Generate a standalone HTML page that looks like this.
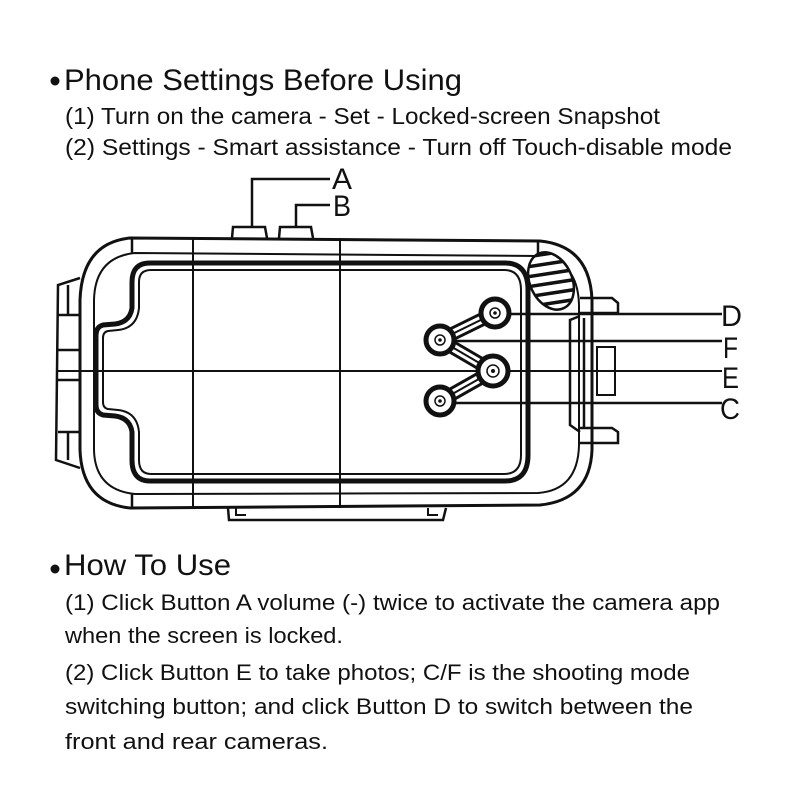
<!DOCTYPE html>
<html><head><meta charset="utf-8"><style>
html,body{margin:0;padding:0;background:#fff;width:800px;height:800px;overflow:hidden}
svg{display:block}
text{font-family:"Liberation Sans",sans-serif;fill:#111}
</style></head><body>
<svg width="800" height="800" viewBox="0 0 800 800" xmlns="http://www.w3.org/2000/svg">
<circle cx="55" cy="81" r="4.5" fill="#111"/>
<text x="64" y="90" font-size="30" textLength="398" lengthAdjust="spacingAndGlyphs">Phone Settings Before Using</text>
<text x="65" y="124" font-size="23" textLength="595" lengthAdjust="spacingAndGlyphs">(1) Turn on the camera - Set - Locked-screen Snapshot</text>
<text x="65" y="155" font-size="23" textLength="667" lengthAdjust="spacingAndGlyphs">(2) Settings - Smart assistance - Turn off Touch-disable mode</text>

<g fill="none" stroke="#111" stroke-width="2.5">
<polyline points="252,226 252,179 330,179"/>
<polyline points="296,226 296,205 330,205"/>
<path d="M232,238 L233,227 L265,227 L267,238"/>
<path d="M279,238 L280,227 L311,227 L313,238"/>
<path d="M80,278 L58,285 L56,460 L80,468"/>
<line x1="68" y1="285" x2="68" y2="315"/><line x1="58" y1="315" x2="80" y2="315"/>
<line x1="58" y1="350" x2="80" y2="350"/><line x1="58" y1="380" x2="80" y2="380"/>
<line x1="58" y1="432" x2="80" y2="432"/><line x1="68" y1="432" x2="68" y2="460"/>
<path d="M130,238 L540,241 Q590,246 592,300 L592,450 Q590,500 540,505 L130,508 Q82,503 80,450 L80,300 Q82,243 130,238 Z" stroke-width="3"/>
<path d="M135,253 L538,256 Q578,260 579,305 L579,445 Q578,490 538,493 L135,494 Q95,490 94,450 L94,300 Q95,257 135,253 Z" stroke-width="2"/>
<line x1="132" y1="238" x2="132" y2="253"/><line x1="132" y1="494" x2="132" y2="508"/>
<line x1="538" y1="241" x2="538" y2="256"/>
<path d="M228,508 L229,520 L443,520 L446,508"/>
<path d="M236,508 L236,515 L246,515" stroke-width="2"/>
<path d="M428,508 L428,515 L438,515" stroke-width="2"/>
<path d="M150,263 L505,263 Q528,263 528,290 L528,455 Q528,481 505,481 L150,481 Q132,481 132,460 L132,432 Q130,418 115,416 L103,415 Q96,413 96,405 L96,335 Q96,327 103,325 L115,324 Q130,322 132,308 L132,282 Q132,263 150,263 Z" stroke-width="5"/>
<path d="M151,270 L504,270 Q521,270 521,290 L521,455 Q521,474 504,474 L151,474 Q139,474 139,460 L139,432 Q137,412 118,410 L108,409 Q103,408 103,402 L103,338 Q103,332 108,331 L118,330 Q137,328 139,308 L139,282 Q139,270 151,270 Z" stroke-width="2"/>
<line x1="193" y1="238" x2="193" y2="508" stroke-width="2"/>
<line x1="340" y1="238" x2="340" y2="508" stroke-width="2"/>
<line x1="56" y1="371" x2="722" y2="371" stroke-width="2"/>
<path d="M580,298 L612,298 L618,303 L618,313 L580,313"/>
<path d="M580,428 L612,428 L618,432 L618,443 L580,443"/>
<path d="M580,316 L570,320 L570,425 L580,432"/>
<line x1="584" y1="318" x2="584" y2="428"/>
<rect x="597" y="347" width="18" height="48" stroke-width="2"/>
<line x1="495" y1="314" x2="722" y2="314"/>
<line x1="440" y1="341" x2="722" y2="341"/>
<line x1="440" y1="403" x2="722" y2="403"/>
</g>
<defs><clipPath id="ov"><ellipse cx="551" cy="281" rx="21" ry="30" transform="rotate(-25 551 281)"/></clipPath></defs>
<ellipse cx="551" cy="281" rx="21" ry="30" transform="rotate(-25 551 281)" fill="#fff" stroke="#111" stroke-width="2.5"/>
<g clip-path="url(#ov)" stroke="#111" stroke-width="3.5">
<line x1="520" y1="258" x2="585" y2="248"/><line x1="520" y1="268" x2="585" y2="258"/>
<line x1="520" y1="278" x2="585" y2="268"/><line x1="520" y1="288" x2="585" y2="278"/>
<line x1="520" y1="298" x2="585" y2="288"/><line x1="520" y1="308" x2="585" y2="298"/>
</g>
<g stroke="#111" fill="none">
<polyline points="495,313 440,340 493,371 440,401" stroke-width="14" stroke-linecap="round" stroke-linejoin="round"/>
<polyline points="495,313 440,340 493,371 440,401" stroke="#fff" stroke-width="8" stroke-linecap="round" stroke-linejoin="round"/>
<polyline points="495,313 440,340 493,371 440,401" stroke-width="2"/>
</g>
<g stroke="#111" fill="#fff">
<circle cx="495" cy="313" r="14" stroke-width="5"/><circle cx="495" cy="313" r="5" stroke-width="1.5"/>
<circle cx="440" cy="340" r="14" stroke-width="5"/><circle cx="440" cy="340" r="5" stroke-width="1.5"/>
<circle cx="493" cy="371" r="15" stroke-width="5"/><circle cx="493" cy="371" r="6" stroke-width="1.5"/>
<circle cx="440" cy="401" r="14" stroke-width="5"/><circle cx="440" cy="401" r="5" stroke-width="1.5"/>
</g>
<g fill="#111"><circle cx="495" cy="313" r="1.8"/><circle cx="440" cy="340" r="1.8"/><circle cx="493" cy="371" r="2"/><circle cx="440" cy="401" r="1.8"/></g>
<text x="332" y="189" font-size="30" textLength="20" lengthAdjust="spacingAndGlyphs">A</text>
<text x="333" y="216" font-size="30" textLength="18" lengthAdjust="spacingAndGlyphs">B</text>
<text x="721" y="326" font-size="30" textLength="21" lengthAdjust="spacingAndGlyphs">D</text>
<text x="723" y="358" font-size="30" textLength="15" lengthAdjust="spacingAndGlyphs">F</text>
<text x="722" y="388" font-size="30" textLength="17" lengthAdjust="spacingAndGlyphs">E</text>
<text x="720" y="419" font-size="30" textLength="20" lengthAdjust="spacingAndGlyphs">C</text>

<circle cx="55" cy="569" r="4.5" fill="#111"/>
<text x="64" y="575" font-size="30" textLength="167" lengthAdjust="spacingAndGlyphs">How To Use</text>
<text x="65" y="610" font-size="22" textLength="655" lengthAdjust="spacingAndGlyphs">(1) Click Button A volume (-) twice to activate the camera app</text>
<text x="65" y="643" font-size="22" textLength="278" lengthAdjust="spacingAndGlyphs">when the screen is locked.</text>
<text x="65" y="680" font-size="22" textLength="625" lengthAdjust="spacingAndGlyphs">(2) Click Button E to take photos; C/F is the shooting mode</text>
<text x="65" y="714" font-size="22" textLength="628" lengthAdjust="spacingAndGlyphs">switching button; and click Button D to switch between the</text>
<text x="65" y="749" font-size="22" textLength="263" lengthAdjust="spacingAndGlyphs">front and rear cameras.</text>
</svg>
</body></html>
